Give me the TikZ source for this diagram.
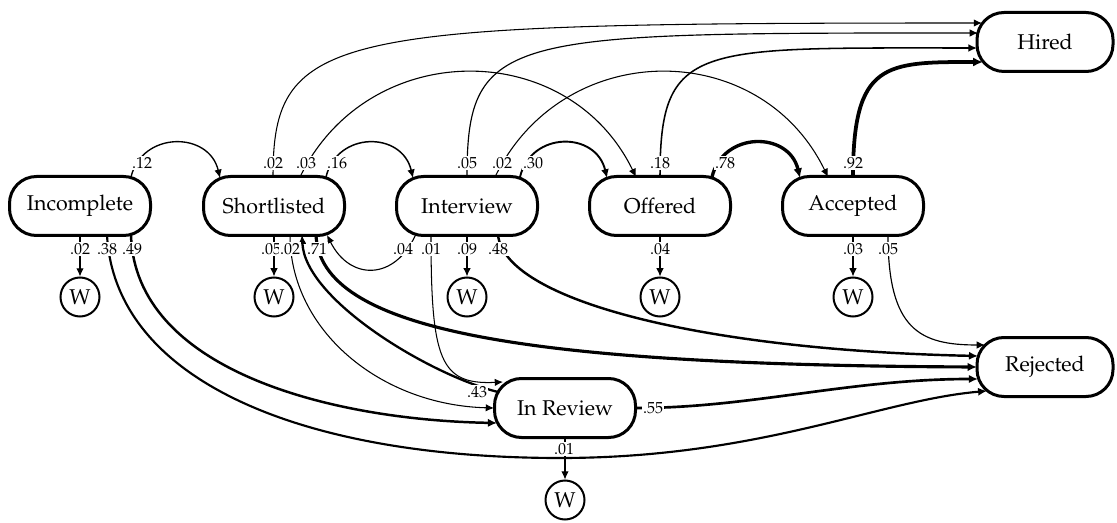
\documentclass[tikz,border=0pt]{standalone}
\usepackage[T1]{fontenc}
\usepackage{mathpazo}
\usetikzlibrary{arrows.meta,calc}

\tikzset{
  state/.style={draw, fill=white, rectangle, rounded corners=13.5pt, line width=1.5pt,
    minimum width=70.5pt, minimum height=29.5pt, inner sep=0pt,
    font=\fontsize{10.7}{12}\selectfont},
  wnode/.style={draw, fill=white, circle, line width=1pt, minimum size=19.5pt,
    inner sep=0pt, font=\fontsize{10.7}{12}\selectfont},
  tr/.style={-{Latex[length=3.8pt 0.6, width=3.4pt 0.6]}},
  lbl/.style={fill=white, inner sep=0.6pt, font=\fontsize{8}{9}\selectfont},
  wd/.style={line width=#1pt}
}

\begin{document}
\begin{tikzpicture}[x=0.5pt, y=-0.5pt]
\useasboundingbox (0,0) rectangle (1117,523);

% states
\node[state] (inc) at (80,206) {Incomplete};
\node[state] (sho) at (274,206) {Shortlisted};
\node[state] (int) at (467,206) {Interview};
\node[state] (off) at (660,206) {Offered};
\node[state] (acc) at (853,206) {Accepted};
\node[state, minimum width=68pt] (hir) at (1045,42) {Hired};
\node[state, minimum width=68pt] (rej) at (1045,367) {Rejected};
\node[state] (rev) at (565,408) {In Review};

% withdrawal states
\node[wnode] (wa) at (80,297) {W};
\node[wnode] (wb) at (274,297) {W};
\node[wnode] (wc) at (467,297) {W};
\node[wnode] (wd) at (660,297) {W};
\node[wnode] (we) at (853,297) {W};
\node[wnode] (wf) at (565,500) {W};

% forward steps along the pipeline
\draw[tr, wd=0.68] ($(inc)+(51,-29)$) .. controls (142,131) and (209,131) .. ($(sho)+(-54,-28)$);
\draw[tr, wd=0.74] ($(sho)+(52,-29)$) .. controls (337,131) and (402,131) .. ($(int)+(-54,-28)$);
\draw[tr, wd=0.95] ($(int)+(53,-29)$) .. controls (531,131) and (596,131) .. ($(off)+(-53,-28)$);
\draw[tr, wd=1.67] ($(off)+(52,-29)$) .. controls (723,131) and (789,131) .. ($(acc)+(-53,-28)$);

% skipping steps
\draw[tr, wd=0.55] ($(sho)+(26,-29)$) .. controls (368,37) and (568,37) .. ($(off)+(-24,-29)$);
\draw[tr, wd=0.53] ($(int)+(28,-29)$) .. controls (563,37) and (760,37) .. ($(acc)+(-25,-29)$);

% into Hired
\draw[tr, wd=0.53] ($(sho)+(-1,-29)$) .. controls (273,30) and (330,23) .. ($(hir)+(-63,-19)$);
\draw[tr, wd=0.58] ($(int)+(0,-29)$) .. controls (467,32) and (505,33) .. ($(hir)+(-67,-9)$);
\draw[tr, wd=0.77] ($(off)+(0,-29)$) .. controls (660,42) and (695,48) .. ($(hir)+(-68,6)$);
\draw[tr, wd=1.88] ($(acc)+(0,-29)$) .. controls (853,62) and (885,62) .. ($(hir)+(-62,20)$);

% backward and review moves
\draw[tr, wd=0.56] ($(int)+(-51,28)$) .. controls (395,281) and (350,281) .. ($(sho)+(53,29)$);
\draw[tr, wd=0.52] ($(int)+(-36,29)$) .. controls (431,360) and (440,385) .. ($(rev)+(-62,-26)$);
\draw[tr, wd=0.53] ($(sho)+(16,29)$) .. controls (290,330) and (380,405) .. ($(rev)+(-71,0)$);
\draw[tr, wd=1.15] ($(rev)+(-67,-16)$) .. controls (430,375) and (305,300) .. ($(sho)+(28,29)$);
\draw[tr, wd=1.24] ($(inc)+(51,29)$) .. controls (135,370) and (330,420) .. ($(rev)+(-68,15)$);

% into Rejected
\draw[tr, wd=0.58] ($(acc)+(35,29)$) .. controls (888,330) and (920,345) .. ($(rej)+(-60,-22)$);
\draw[tr, wd=1.22] ($(int)+(31,29)$) .. controls (505,300) and (700,350) .. ($(rej)+(-67,-11)$);
\draw[tr, wd=1.57] ($(sho)+(42,29)$) .. controls (320,330) and (520,365) .. ($(rej)+(-68,0)$);
\draw[tr, wd=1.33] (rev.east) .. controls (750,408) and (850,379) .. ($(rej)+(-67,12)$);
\draw[tr, wd=1.07] ($(inc)+(27,29)$) .. controls (115,380) and (300,458) .. (560,458)
   .. controls (760,458) and (880,400) .. ($(rej)+(-58,24)$);

% withdrawals
\draw[tr, wd=0.53] (inc.south) -- (wa.north);
\draw[tr, wd=0.58] (sho.south) -- (wb.north);
\draw[tr, wd=0.64] (int.south) -- (wc.north);
\draw[tr, wd=0.56] (off.south) -- (wd.north);
\draw[tr, wd=0.55] (acc.south) -- (we.north);
\draw[tr, wd=0.52] (rev.south) -- (wf.north);

% transition probabilities
\node[lbl] (l1)  at ($(inc)+(62,-43)$) {.12};
\node[lbl] (l2)  at ($(sho)+(-1,-43)$) {.02};
\node[lbl] (l3)  at ($(sho)+(32,-43)$) {.03};
\node[lbl] (l4)  at ($(sho)+(63,-43)$) {.16};
\node[lbl] (l5)  at ($(int)+(0,-43)$) {.05};
\node[lbl] (l6)  at ($(int)+(35,-43)$) {.02};
\node[lbl] (l7)  at ($(int)+(66,-43)$) {.30};
\node[lbl] (l8)  at ($(off)+(0,-43)$) {.18};
\node[lbl] (l9)  at ($(off)+(65,-43)$) {.78};
\node[lbl] (l10) at ($(acc)+(0,-43)$) {.92};

\node[lbl] (l11) at ($(inc)+(0,43)$) {.02};
\node[lbl] (l12) at ($(inc)+(27,43)$) {.38};
\node[lbl] (l13) at ($(inc)+(52,43)$) {.49};
\node[lbl] (l14) at ($(sho)+(-3,43)$) {.05};
\node[lbl] (l15) at ($(sho)+(16,43)$) {.02};
\node[lbl] (l16) at ($(sho)+(43,43)$) {.71};
\node[lbl] (l17) at ($(int)+(-64,43)$) {.04};
\node[lbl] (l18) at ($(int)+(-36,43)$) {.01};
\node[lbl] (l19) at ($(int)+(0,43)$) {.09};
\node[lbl] (l20) at ($(int)+(31,43)$) {.48};
\node[lbl] (l21) at ($(off)+(0,43)$) {.04};
\node[lbl] (l22) at ($(acc)+(0,43)$) {.03};
\node[lbl] (l23) at ($(acc)+(35,43)$) {.05};
\node[lbl] (l24) at ($(rev)+(-88,-16)$) {.43};
\node[lbl] (l25) at ($(rev)+(88,0)$) {.55};
\node[lbl] (l26) at ($(rev)+(-1,41)$) {.01};
\end{tikzpicture}
\end{document}
